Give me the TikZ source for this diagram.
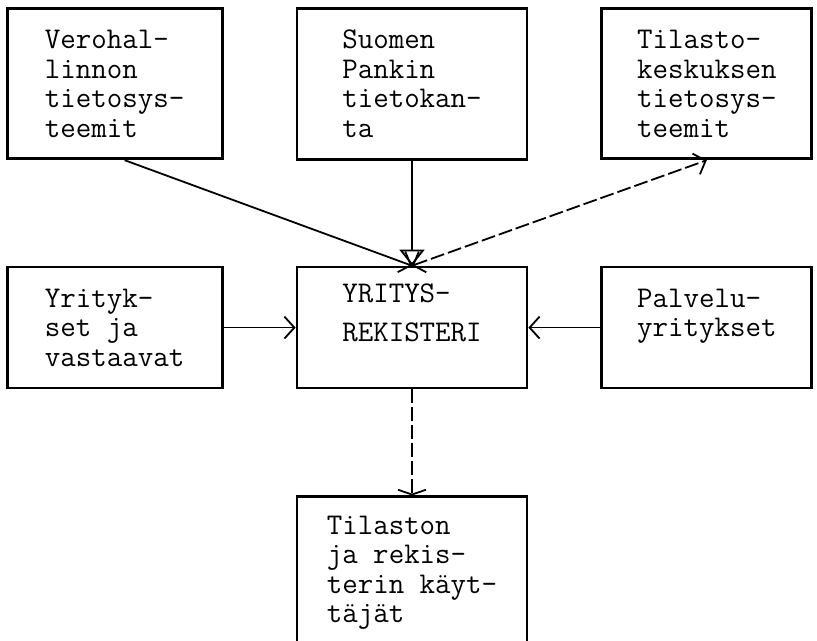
\documentclass[tikz,border=0pt]{standalone}
\usepackage{tikz}
\usetikzlibrary{arrows.meta,positioning}

\begin{document}
\begin{tikzpicture}
	\tikzstyle{every node} = [rectangle, draw = black, line width = 0.7mm, align = left, font = \fontsize{21.4}{21}\selectfont\ttfamily]
	\tikzstyle{nuoli} = [line width = 0.45mm, -{Straight Barb[length=2.5mm, width=5.5mm]}]
	\tikzstyle{katko} = [dash pattern = on 3.5mm off 1mm]
	\useasboundingbox (0, 0) rectangle (20.425, -16.025);
\node[minimum width = 5.75cm, minimum height = 3.025cm] (4) at (10.3, -8.19) {YRITYS-\\[6.7pt]REKISTERI\\\mbox{}};
\node[minimum width = 5.75cm, minimum height = 3.775cm, above = 2.625cm of 4] (1) {Suomen\\Pankin\\tietokan-\\ta};
\node[minimum width = 5.375cm, minimum height = 3.75cm, left = 1.8cm of 1] (0) {Verohal-\\linnon\\tietosys-\\teemit};
\node[minimum width = 5.25cm, minimum height = 3.75cm, right = 1.8cm of 1] (2) {Tilasto-\\keskuksen\\tietosys-\\teemit};
\node[minimum width = 5.375cm, minimum height = 3.025cm, left = 1.8cm of 4] (3) {Yrityk-\\set ja\\vastaavat};
\node[minimum width = 5.25cm, minimum height = 3.025cm, right = 1.8cm of 4] (5) {Palvelu-\\yritykset\\\mbox{}};
\node[minimum width = 5.75cm, minimum height = 3.8cm, below = 2.65cm of 4] (6) {Tilaston\\ja rekis-\\terin käyt-\\täjät};

	\path[draw, nuoli] ([xshift=2.5mm]0.south) -- (4.north);
	\path[draw, line width = 0.45mm, -{Triangle[open, length=4mm, width=6.25mm]}] (1) -- (4);
	\path[draw, nuoli, katko, {Straight Barb[length=2.5mm, width=5.5mm]}-{Straight Barb[length=2.5mm, width=5.5mm]}] (4.north) -- (2.south);
	\path[draw, nuoli] (3) -- (4);
	\path[draw, nuoli] (5) -- (4);
	\path[draw, nuoli, katko, -{Straight Barb[length=1.2mm, width=7mm]}] (4) -- (6);
	\end{tikzpicture}
\end{document}
